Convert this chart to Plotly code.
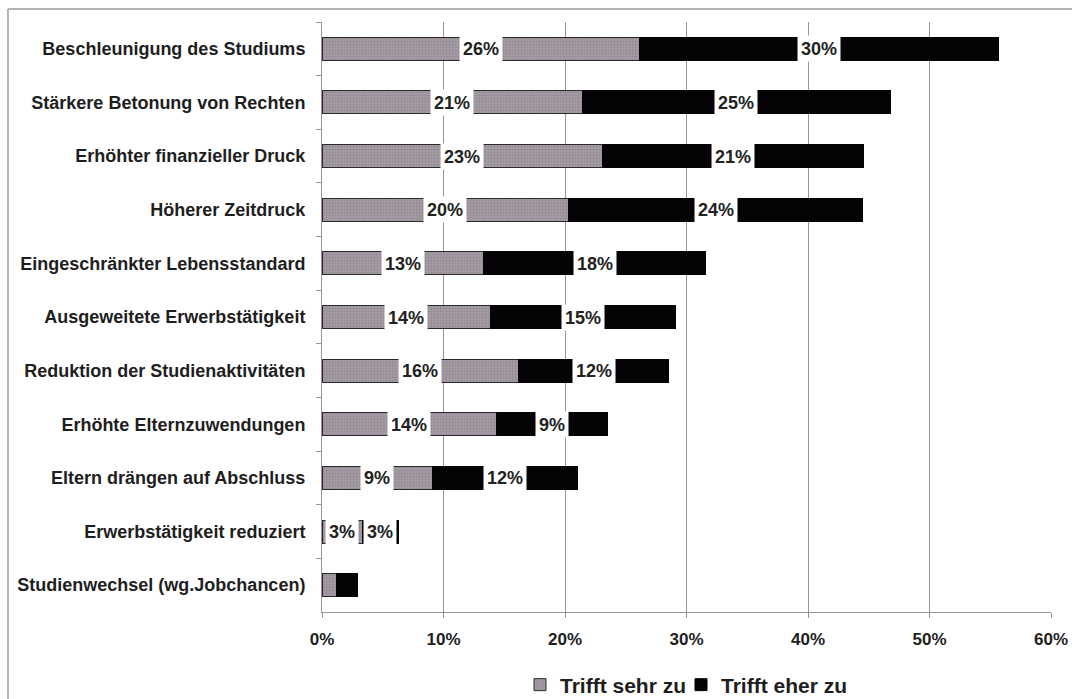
import plotly.graph_objects as go

categories = [
    "Beschleunigung des Studiums",
    "Stärkere Betonung von Rechten",
    "Erhöhter finanzieller Druck",
    "Höherer Zeitdruck",
    "Eingeschränkter Lebensstandard",
    "Ausgeweitete Erwerbstätigkeit",
    "Reduktion der Studienaktivitäten",
    "Erhöhte Elternzuwendungen",
    "Eltern drängen auf Abschluss",
    "Erwerbstätigkeit reduziert",
    "Studienwechsel (wg.Jobchancen)",
]
sehr_zu = [26.1, 21.4, 23.1, 20.3, 13.3, 13.9, 16.2, 14.4, 9.1, 3.3, 1.2]
eher_zu = [29.6, 25.4, 21.5, 24.2, 18.3, 15.2, 12.3, 9.1, 11.9, 3.0, 1.7]
sehr_labels = ["26%", "21%", "23%", "20%", "13%", "14%", "16%", "14%", "9%", "3%", ""]
eher_labels = ["30%", "25%", "21%", "24%", "18%", "15%", "12%", "9%", "12%", "3%", ""]
x_ticks = [0, 10, 20, 30, 40, 50, 60]
x_ticklabels = ["0%", "10%", "20%", "30%", "40%", "50%", "60%"]

W, H = 1072, 699
L, R, T, B = 322, 21, 22, 87
PW, PH = W - L - R, H - T - B

def px_x(p):
    return (p - L) / PW

def px_y(p):
    return (H - B - p) / PH

FONT = "Liberation Sans, Arial, sans-serif"
GRAY = "#9c929c"

fig = go.Figure()
fig.add_trace(go.Bar(
    y=categories, x=sehr_zu, orientation="h", name="Trifft sehr zu",
    marker=dict(color=GRAY, line=dict(color="#2a2a2a", width=1),
                pattern=dict(shape=".", bgcolor="#a59ba5", fgcolor="#7f757f",
                             size=3, solidity=0.35)),
    hoverinfo="skip", legend="legend",
))
fig.add_trace(go.Bar(
    y=categories, x=eher_zu, orientation="h", name="Trifft eher zu",
    marker=dict(color="#050305", line=dict(color="#050305", width=1)),
    hoverinfo="skip", legend="legend2",
))

annotations = []
for cat, a, b, la, lb in zip(categories, sehr_zu, eher_zu, sehr_labels, eher_labels):
    for xc, lab in ((a / 2, la), (a + b / 2, lb)):
        if not lab:
            continue
        annotations.append(dict(
            x=xc, y=cat, xref="x", yref="y", text="<b>%s</b>" % lab,
            showarrow=False, bgcolor="white", borderpad=1,
            width=10 * len(lab) + 10, height=23,
            font=dict(family=FONT, size=18, color="#222222"),
        ))

shapes = [
    dict(type="line", xref="paper", yref="paper",
         x0=px_x(8), x1=px_x(8), y0=px_y(H + 5), y1=px_y(9),
         line=dict(color="#b8b2b8", width=2)),
    dict(type="line", xref="paper", yref="paper",
         x0=px_x(8), x1=px_x(W + 5), y0=px_y(9), y1=px_y(9),
         line=dict(color="#b8b2b8", width=2)),
]

legend_common = dict(orientation="h", xref="container", yref="container",
                     xanchor="left", y=1 - 685 / H, yanchor="middle",
                     font=dict(family=FONT, size=21, color="#1e1e1e", weight="bold"),
                     itemwidth=30, bgcolor="rgba(0,0,0,0)")

fig.update_layout(
    width=W, height=H,
    margin=dict(l=L, r=R, t=T, b=B, pad=0, autoexpand=False),
    barmode="stack", bargap=0.57,
    plot_bgcolor="white", paper_bgcolor="white",
    font=dict(family=FONT, size=18, color="#1e1e1e"),
    annotations=annotations, shapes=shapes,
    showlegend=True,
    legend=dict(x=520 / W, **legend_common),
    legend2=dict(x=681 / W, **legend_common),
    xaxis=dict(range=[0, 60], tickvals=x_ticks, ticktext=x_ticklabels,
               automargin=False,
               showgrid=True, gridcolor="#9a949a", gridwidth=1,
               showline=True, linecolor="#9a949a", linewidth=1,
               ticks="outside", ticklen=5, tickcolor="#9a949a",
               ticklabelstandoff=7, zeroline=False,
               tickfont=dict(family=FONT, size=17, color="#1e1e1e", weight="bold")),
    yaxis=dict(autorange="reversed", type="category", automargin=False,
               showline=True, linecolor="#9a949a", linewidth=1,
               ticks="outside", ticklen=5, tickcolor="#9a949a",
               tickson="boundaries", ticklabelstandoff=12, showgrid=False,
               tickfont=dict(family=FONT, size=18, color="#1e1e1e", weight="bold")),
)

fig.write_html("out.html")
